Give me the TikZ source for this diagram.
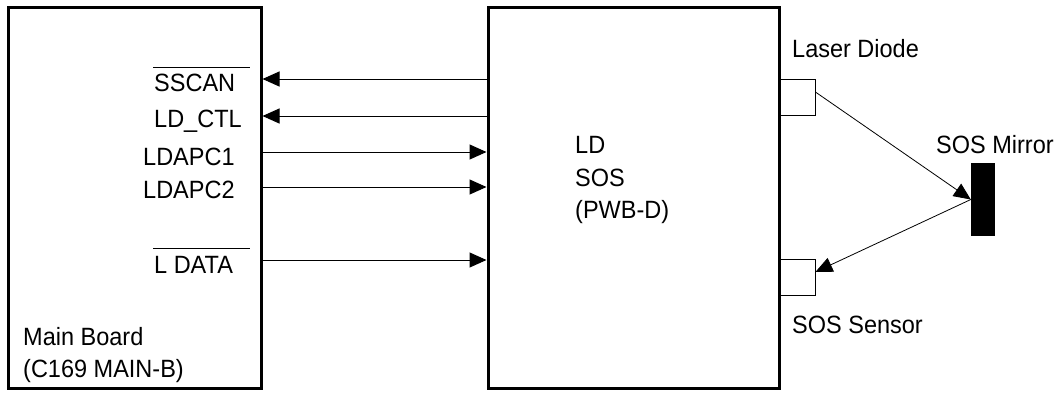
\documentclass[tikz,border=0pt]{standalone}
\usepackage{fontspec}
\setmainfont[FakeStretch=0.94]{Liberation Sans}
\usetikzlibrary{arrows.meta,calc}
\begin{document}
\begin{tikzpicture}[x=1pt,y=-1pt,
  board/.style={draw,line width=3pt,minimum width=#1,inner sep=0pt,minimum height=381pt},
  sig/.style={line width=1pt,-{Triangle[length=17pt,width=15pt]}},
  beam/.style={line width=0.8pt,-{Triangle[length=17pt,width=15pt]}},
  lbl/.style={anchor=base west,inner sep=0pt,font=\fontsize{25}{28}\selectfont},
  port/.style={draw,line width=0.8pt,minimum size=36pt,inner sep=0pt},
  bar/.style={line width=1pt}]
\useasboundingbox (0,0) rectangle (1063,392);
% boards
\node[board=253pt] (main) at (134.5,198) {};
\node[board=291pt] (ld) at (633.5,198) {};
% signal rows
\coordinate (r1) at (0,79);
\coordinate (r2) at (0,116);
\coordinate (r3) at (0,152);
\coordinate (r4) at (0,187);
\coordinate (r5) at (0,260);
\draw[sig] (ld.west |- r1) -- (main.east |- r1);
\draw[sig] (ld.west |- r2) -- (main.east |- r2);
\draw[sig] (main.east |- r3) -- (ld.west |- r3);
\draw[sig] (main.east |- r4) -- (ld.west |- r4);
\draw[sig] (main.east |- r5) -- (ld.west |- r5);
% labels
\node[lbl] (t1) at (154,91) {SSCAN};
\coordinate (o1a) at (153,67);
\coordinate (o1b) at (250,67);
\draw[bar] (o1a) -- (o1b);
\node[lbl] (t2) at (154,127) {LD\_CTL};
\node[lbl] (t3) at (143,165) {LDAPC1};
\node[lbl] (t4) at (143,198) {LDAPC2};
\node[lbl] (t5) at (154,273) {L DATA};
\coordinate (o5a) at (153,248);
\coordinate (o5b) at (250,248);
\draw[bar] (o5a) -- (o5b);
\node[lbl] (mb1) at (23,345) {Main Board};
\node[lbl] (mb2) at (23,377) {(C169 MAIN-B)};
\node[lbl] (l1) at (575,153) {LD};
\node[lbl] (l2) at (575,186) {SOS};
\node[lbl] (l3) at (575,218) {(PWB-D)};
% optics
\node[port] (laser) at (797,97) {};
\node[port] (sensor) at (797,277) {};
\node[fill=black,minimum width=24pt,minimum height=73pt,inner sep=0pt] (mirror) at (983,199.5) {};
\draw[beam] ($(laser.east)+(0,-5)$) -- (mirror.west);
\draw[beam] (mirror.west) -- ($(sensor.east)+(0,-5)$);
\node[lbl] (ldt) at (792,57) {Laser Diode};
\node[lbl] (mt) at (936,153) {SOS Mirror};
\node[lbl] (st) at (792,333) {SOS Sensor};
\end{tikzpicture}
\end{document}
